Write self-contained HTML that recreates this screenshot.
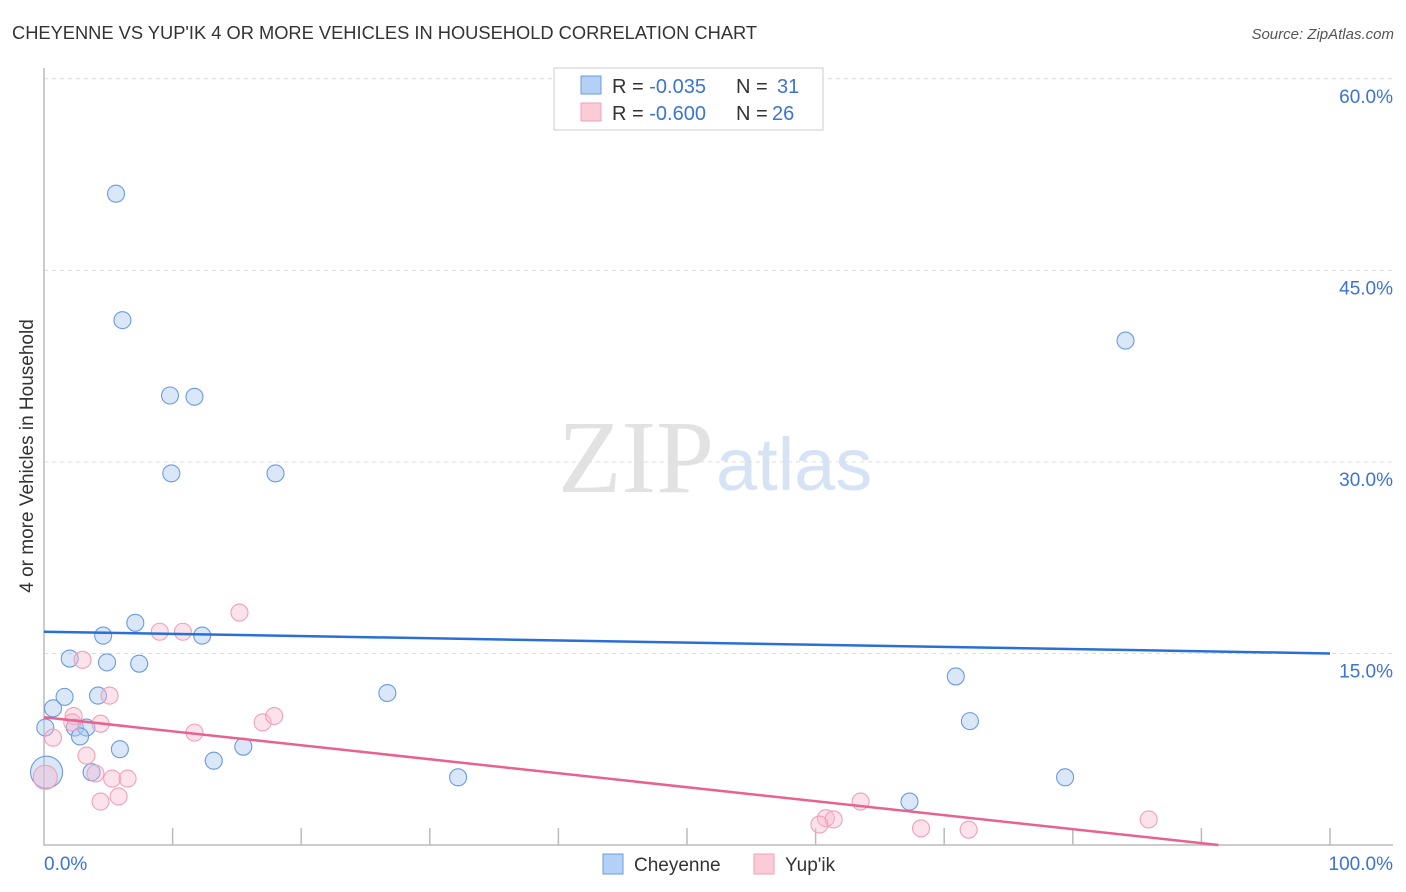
<!DOCTYPE html>
<html><head><meta charset="utf-8">
<style>
body{margin:0;background:#fff;font-family:"Liberation Sans",sans-serif;}
svg{display:block}
</style></head><body>
<svg id="chart" width="1406" height="892">
<text x="12" y="39" font-size="18.3" fill="#333">CHEYENNE VS YUP'IK 4 OR MORE VEHICLES IN HOUSEHOLD CORRELATION CHART</text>
<text x="1394" y="39" font-size="15" fill="#555" text-anchor="end" font-style="italic">Source: ZipAtlas.com</text>
<text x="714" y="492" font-size="104" fill="#e2e2e2" text-anchor="end" font-family="Liberation Serif,serif">ZIP</text>
<text x="716" y="490" font-size="74" fill="#d6e3f5">atlas</text>
<text transform="translate(33,456) rotate(-90)" font-size="19" fill="#333" text-anchor="middle">4 or more Vehicles in Household</text>
<g id="grid"></g>
<g id="marks"></g>
<g>
<rect x="554" y="68" width="269" height="62" fill="#fff" stroke="#ccc"/>
<rect x="581" y="76" width="20" height="18" fill="#b4d0f4" stroke="#6a9be0"/>
<rect x="581" y="103" width="20" height="18" fill="#fbcbd8" stroke="#f0a0b8"/>
<text x="612" y="93" font-size="20" fill="#333">R = <tspan fill="#3b73d6">-0.035</tspan><tspan x="736">N = </tspan><tspan x="777" fill="#3b73d6">31</tspan></text>
<text x="612" y="120" font-size="20" fill="#333">R = <tspan fill="#3b73d6">-0.600</tspan><tspan x="736">N = </tspan><tspan x="772" fill="#3b73d6">26</tspan></text>
</g>
<g>
<rect x="603" y="854" width="20" height="20" fill="#b4d0f4" stroke="#6a9be0"/>
<text x="634" y="871" font-size="19" fill="#333">Cheyenne</text>
<rect x="754" y="854" width="20" height="20" fill="#fbcbd8" stroke="#f0a0b8"/>
<text x="785" y="871" font-size="19" fill="#333">Yup'ik</text>
</g>
</svg>
<script>
const yTicks=[15,30,45,60];
const yTickLabels=["15.0%","30.0%","45.0%","60.0%"];
const xTickLabels=["0.0%","100.0%"];
const cheyX=[5.6,6.1,9.8,11.7,9.9,18.0,84.1,4.6,7.1,12.3,2.0,4.9,7.4,1.6,4.2,0.7,26.7,70.9,72.0,0.1,2.4,3.3,2.8,5.9,13.2,15.5,3.7,32.2,79.4,67.3,0.2];
const cheyY=[51.0,41.1,35.2,35.1,29.1,29.1,39.5,16.4,17.4,16.4,14.6,14.3,14.2,11.6,11.7,10.7,11.9,13.2,9.7,9.2,9.2,9.2,8.5,7.5,6.6,7.7,5.7,5.3,5.3,3.4,5.7];
const yupX=[15.2,9.0,10.8,3.0,5.1,2.3,4.4,0.7,2.2,11.7,17.0,17.9,3.3,4.0,5.3,6.5,4.4,5.8,0.1,63.5,60.8,61.4,60.3,68.2,71.9,85.9];
const yupY=[18.2,16.7,16.7,14.5,11.7,10.1,9.5,8.4,9.6,8.8,9.6,10.1,7.0,5.6,5.2,5.2,3.4,3.8,5.3,3.4,2.1,2.0,1.6,1.3,1.2,2.0];
const cheyTrend=[16.7,15.0];
const yupTrend=[10.0,-0.95];
const NS="http://www.w3.org/2000/svg";
const X=v=>44+v*12.86, Y=v=>845-v*12.77;
function mk(t,a,p){const e=document.createElementNS(NS,t);for(const k in a)e.setAttribute(k,a[k]);p.appendChild(e);return e;}
const grid=document.getElementById('grid'), marks=document.getElementById('marks');
yTicks.forEach((v,i)=>{
 const l=mk('line',{x1:44,x2:1393,y1:Y(v),y2:Y(v),stroke:'#ddd','stroke-dasharray':'4,4'},grid);
 
 
 const t=mk('text',{x:1393,y:Y(v)+24,'font-size':19,fill:'#3b73d6','text-anchor':'end'},grid);
 t.textContent=yTickLabels[i];
 
 
});
const ax=mk('path',{d:'M44,68V845H1393',stroke:'#bbb',fill:'none','stroke-width':1.5},grid);


for(let i=1;i<=10;i++){
 const tk=mk('line',{x1:X(i*10),x2:X(i*10),y1:828,y2:845,stroke:'#bbb','stroke-width':1.5},grid);
 
 
}
[[0,'start',44],[100,'end',1393]].forEach((d,i)=>{
 const t=mk('text',{x:d[2],y:870,'font-size':19,fill:'#3b73d6','text-anchor':d[1]},grid);
 t.textContent=xTickLabels[i];
 
 
});
cheyX.forEach((v,i)=>{
 const big=i===cheyX.length-1;
 const c=mk('circle',{cx:X(v),cy:Y(cheyY[i]),r:big?16:8.5,fill:'rgba(170,202,242,0.45)',stroke:'#6a9be0','stroke-width':1.1},marks);
 
 
});
yupX.forEach((v,i)=>{
 const big=i===18;
 const c=mk('circle',{cx:X(v),cy:Y(yupY[i]),r:big?12:8.5,fill:'rgba(248,186,204,0.4)',stroke:'#f0a0b8','stroke-width':1.1},marks);
 
 
});
const tl1=mk('line',{x1:X(0),y1:Y(cheyTrend[0]),x2:X(100),y2:Y(cheyTrend[1]),stroke:'#2a6fd6','stroke-width':2.5},marks);


const slope=(yupTrend[1]-yupTrend[0])/100;
const xEnd=Math.min(100,-yupTrend[0]/slope);
const tl2=mk('line',{x1:X(0),y1:Y(yupTrend[0]),x2:X(xEnd),y2:Y(yupTrend[0]+slope*xEnd),stroke:'#e8628e','stroke-width':2.5},marks);


</script>
</body></html>
